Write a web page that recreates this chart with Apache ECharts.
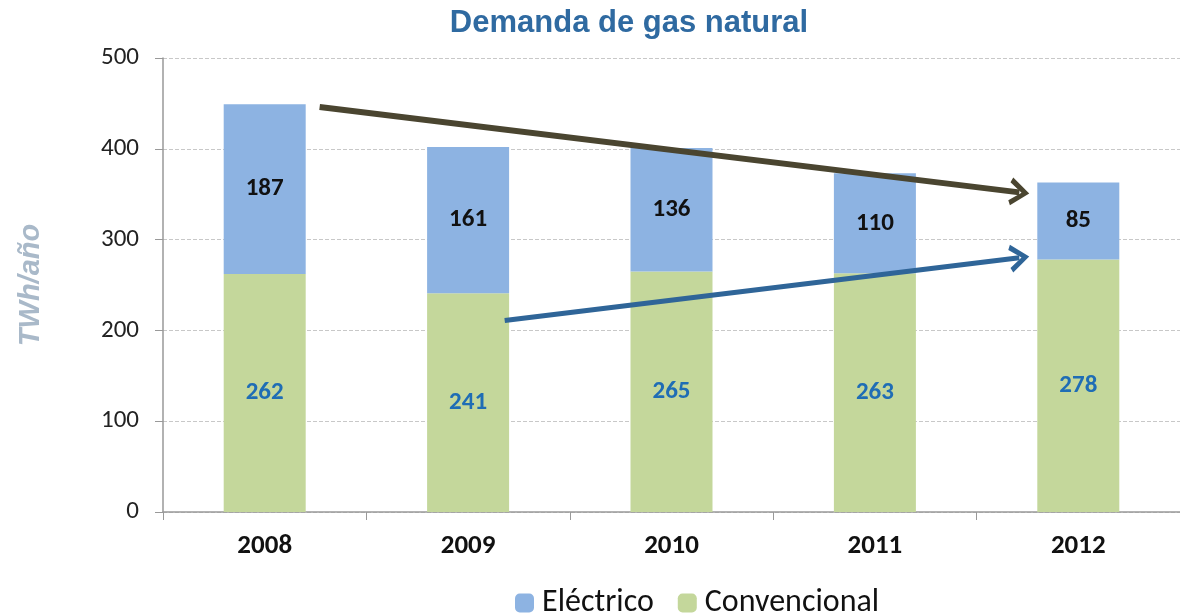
<!DOCTYPE html>
<html><head><meta charset="utf-8">
<script src="https://cdn.jsdelivr.net/npm/echarts@6/dist/echarts.min.js"></script>
<style>html,body{margin:0;padding:0;background:#fff}#c{width:1180px;height:613px}</style>
</head><body><div id="c"></div>
<script>
const categories = ['2008','2009','2010','2011','2012'];
const convencional = [262, 241, 265, 263, 278];
const electrico = [187, 161, 136, 110, 85];
const yTicks = [0, 100, 200, 300, 400, 500];
// trend arrows in (category position, TWh/año) space
const arrowDown = [[0.27, 446], [3.71, 352]];
const arrowUp = [[1.18, 211], [3.71, 280]];

const chevron = 'path://M0,16 L10,0 L20,16 L16.5,18 L10,7 L3.5,18 Z';
const font = 'Carlito, "Open Sans", "Noto Sans", sans-serif';

const chart = echarts.init(document.getElementById('c'));
chart.setOption({
  animation: false,
  title: {
    text: 'Demanda de gas natural',
    left: 624, top: 3, textAlign: 'center',
    textStyle: { fontFamily: 'Liberation Sans, Arial, sans-serif', fontWeight: 'bold', fontSize: 31, color: '#2f6aa1' }
  },
  legend: {
    top: 582, left: 510,
    itemWidth: 19, itemHeight: 19, itemGap: 24,
    textStyle: { fontFamily: font, fontSize: 32, color: '#111', padding: [0, 0, 0, 3] },
    data: ['Eléctrico', 'Convencional']
  },
  grid: { left: 163, top: 58, width: 1030, height: 454 },
  xAxis: [{
    type: 'category', data: categories,
    axisLine: { lineStyle: { color: '#999', width: 1.5 } },
    axisTick: { show: true, length: 8, lineStyle: { color: '#999' } },
    axisLabel: { fontFamily: font, fontWeight: 'bold', fontSize: 27, color: '#111', margin: 21 }
  }, {
    type: 'value', min: -0.5, max: 4.5, show: false
  }],
  yAxis: {
    type: 'value', min: 0, max: 500, interval: 100,
    name: 'TWh/año', nameLocation: 'middle', nameGap: 118, nameRotate: 90,
    nameTextStyle: { fontFamily: 'Liberation Sans, Arial, sans-serif', fontStyle: 'italic', fontWeight: 'bold', fontSize: 29, color: '#a9b9c9' },
    axisLine: { show: true, onZero: false, lineStyle: { color: '#999', width: 1.5 } },
    axisTick: { show: true, inside: false, length: 8, lineStyle: { color: '#999' } },
    axisLabel: { fontFamily: font, fontSize: 25, color: '#222', margin: 24,
      formatter: v => yTicks.includes(v) ? String(v) : '' },
    splitLine: { lineStyle: { type: 'dashed', color: '#c8c8c8' } }
  },
  series: [{
    name: 'Convencional', type: 'bar', stack: 'a', barWidth: 82,
    data: convencional,
    itemStyle: { color: '#c4d79b' },
    label: { show: true, position: 'inside', fontFamily: font, fontWeight: 'bold', fontSize: 25, color: '#1f6db5' }
  }, {
    name: 'Eléctrico', type: 'bar', stack: 'a', barWidth: 82,
    data: electrico,
    itemStyle: { color: '#8db3e2' },
    label: { show: true, position: 'inside', fontFamily: font, fontWeight: 'bold', fontSize: 25, color: '#111' }
  }, {
    type: 'line', xAxisIndex: 1, data: [], silent: true,
    markLine: {
      silent: true, animation: false,
      symbol: ['none', chevron], symbolSize: [28, 20],
      label: { show: false },
      data: [
        [{ coord: arrowDown[0], lineStyle: { color: '#4a4530', width: 6, type: 'solid' }, symbol: 'none' },
         { coord: arrowDown[1], symbol: chevron }],
        [{ coord: arrowUp[0], lineStyle: { color: '#2f6598', width: 5, type: 'solid' }, symbol: 'none' },
         { coord: arrowUp[1], symbol: chevron }]
      ]
    }
  }]
});
</script></body></html>
